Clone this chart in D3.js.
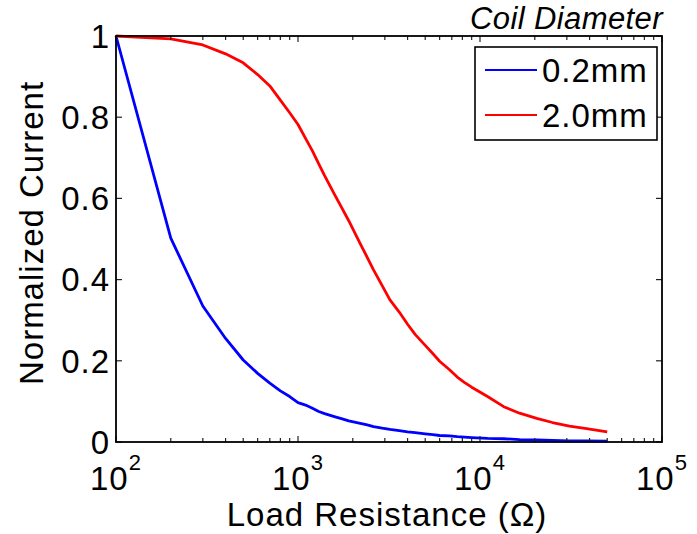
<!DOCTYPE html>
<html><head><meta charset="utf-8">
<script src="https://cdn.jsdelivr.net/npm/d3@7"></script>
<style>
body{margin:0;background:#fff;}
text{font-family:"Liberation Sans",Arial,sans-serif;}
</style></head>
<body><svg id="c" width="697" height="534"></svg>
<script>
const resistance = [100,200,300,400,500,600,700,800,900,1000,1100,1200,1300,1400,1600,1750,1900,2200,2400,2600,2900,3200,3600,4000,4400,5000,5500,6000,6800,7500,8200,9000,11000,13500,16500,20500,25000,31000,38500,50000];
const current02 = [1.0,0.502,0.335,0.255,0.202,0.169,0.145,0.126,0.112,0.097,0.091,0.083,0.075,0.07,0.062,0.057,0.052,0.046,0.042,0.038,0.034,0.031,0.028,0.025,0.023,0.020,0.018,0.016,0.015,0.013,0.012,0.011,0.009,0.008,0.006,0.005,0.004,0.003,0.003,0.002];
const current20 = [1.0,0.993,0.978,0.956,0.934,0.905,0.877,0.842,0.811,0.782,0.748,0.717,0.685,0.656,0.607,0.575,0.545,0.488,0.455,0.424,0.385,0.35,0.32,0.29,0.265,0.238,0.218,0.199,0.178,0.16,0.147,0.135,0.112,0.087,0.071,0.058,0.048,0.039,0.033,0.025];
const seriesNames = ["0.2mm","2.0mm"];
const seriesColors = ["#0000ff","#ff0000"];
const xTickValues = [100,1000,10000,100000];
const xTickExp = ["2","3","4","5"];
const yTickValues = [0,0.2,0.4,0.6,0.8,1];
const yTickLabels = ["0","0.2","0.4","0.6","0.8","1"];
const xLabel = "Load Resistance (\u03A9)";
const yLabel = "Normalized Current";
const legendTitle = "Coil Diameter";

const svg = d3.select("#c");
const L=116, R=662, T=36, B=442;
const x = d3.scaleLog().domain([100,100000]).range([L,R]);
const y = d3.scaleLinear().domain([0,1]).range([B,T]);
const FS = 33, LS = "1px";

// lines
const line = d3.line().x(d=>x(d[0])).y(d=>y(d[1]));
[current02, current20].forEach((vals,i)=>{
  svg.append("path").datum(resistance.map((r,j)=>[r,vals[j]]))
    .attr("d",line).attr("fill","none").attr("stroke",seriesColors[i])
    .attr("stroke-width",2.8).attr("stroke-linejoin","round");
});

// minor x ticks
const minor = x.ticks().filter(v=>xTickValues.indexOf(v)<0);
const tickG = svg.append("g").attr("stroke","#222").attr("stroke-width",1.2);
minor.forEach(v=>{
  tickG.append("line").attr("x1",x(v)).attr("x2",x(v)).attr("y1",B).attr("y2",B-4);
  tickG.append("line").attr("x1",x(v)).attr("x2",x(v)).attr("y1",T).attr("y2",T+4);
});
xTickValues.forEach(v=>{
  tickG.append("line").attr("x1",x(v)).attr("x2",x(v)).attr("y1",B).attr("y2",B-6);
  tickG.append("line").attr("x1",x(v)).attr("x2",x(v)).attr("y1",T).attr("y2",T+6);
});
yTickValues.forEach(v=>{
  tickG.append("line").attr("x1",L).attr("x2",L+6).attr("y1",y(v)).attr("y2",y(v));
  tickG.append("line").attr("x1",R).attr("x2",R-6).attr("y1",y(v)).attr("y2",y(v));
});

// box
svg.append("rect").attr("x",L).attr("y",T).attr("width",R-L).attr("height",B-T)
  .attr("fill","none").attr("stroke","#000").attr("stroke-width",1.8);

// y labels
yTickValues.forEach((v,i)=>{
  svg.append("text").attr("x",L-6).attr("y",y(v)).attr("dy","0.36em")
    .attr("text-anchor","end").attr("font-size",FS).attr("letter-spacing",LS).text(yTickLabels[i]);
});
// x labels
xTickValues.forEach((v,i)=>{
  const t = svg.append("text").attr("x",x(v)).attr("y",490).attr("text-anchor","middle")
    .attr("font-size",FS).attr("letter-spacing",LS);
  t.append("tspan").text("10");
  t.append("tspan").attr("dy",-20).attr("font-size",22).text(xTickExp[i]);
});
// axis titles
svg.append("text").attr("x",(L+R)/2-2).attr("y",526).attr("text-anchor","middle")
  .attr("font-size",FS).attr("letter-spacing",LS).text(xLabel);
svg.append("text").attr("transform",`translate(43,${(T+B)/2-6}) rotate(-90)`)
  .attr("text-anchor","middle").attr("font-size",FS).attr("letter-spacing",LS).text(yLabel);

// legend
svg.append("text").attr("x",663).attr("y",29).attr("text-anchor","end")
  .attr("font-size",31).attr("letter-spacing","0.4px").attr("font-style","italic").text(legendTitle);
svg.append("rect").attr("x",475).attr("y",47).attr("width",182).attr("height",93)
  .attr("fill","#fff").attr("stroke","#000").attr("stroke-width",1.6);
seriesNames.forEach((n,i)=>{
  const ly = 70 + i*45;
  svg.append("line").attr("x1",485).attr("x2",537).attr("y1",ly).attr("y2",ly)
    .attr("stroke",seriesColors[i]).attr("stroke-width",2.2);
  svg.append("text").attr("x",542).attr("y",ly+12).attr("font-size",FS).attr("letter-spacing",LS).text(n);
});
</script></body></html>
